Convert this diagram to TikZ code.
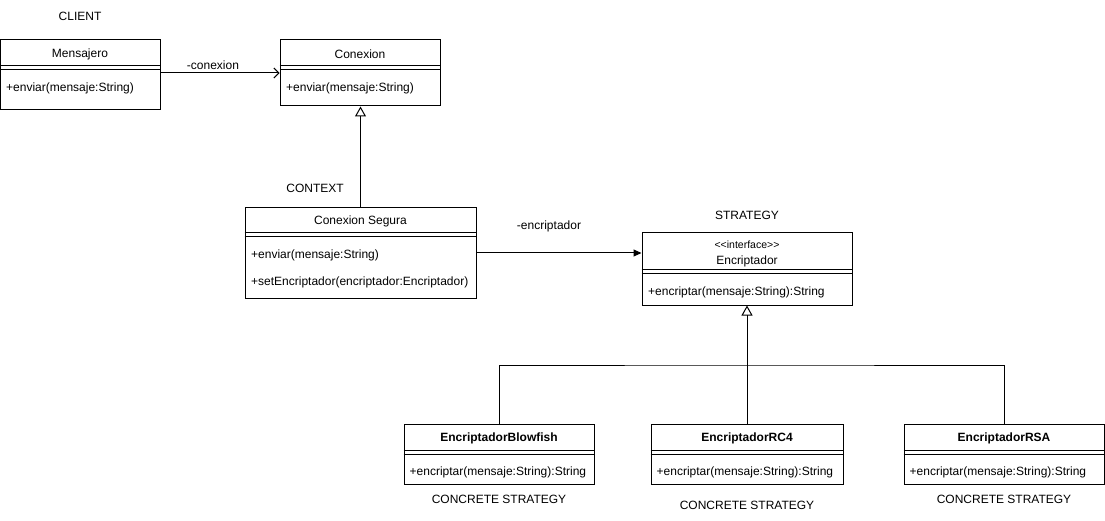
\documentclass[tikz,border=0pt]{standalone}
\usepackage{fontspec}
\setmainfont{Liberation Sans}
\usetikzlibrary{arrows.meta,fit}

\tikzset{
  cls/.style={draw, inner sep=0pt, line width=1pt},
  txt/.style={inner sep=0pt, font=\fontsize{12}{14}\selectfont},
  mth/.style={txt, anchor=west},
  inherit/.style={-{Triangle[open,length=10pt,width=11pt]}, line width=1pt},
  assoc/.style={-{Straight Barb[length=5pt,width=10pt]}, line width=1pt},
  navig/.style={-{Triangle[length=8pt,width=7pt]}, line width=1pt},
}

% class box: name, two corners, top of the double line
\newcommand{\umlbox}[4]{%
  \node[cls, fit={#2 #3}] (#1) {};
  \draw[line width=1pt] (#1.west |- 0,#4) -- (#1.east |- 0,#4);
  \draw[line width=1pt] (#1.west |- 0,#4+4) -- (#1.east |- 0,#4+4);
}

\begin{document}
\begin{tikzpicture}[x=1pt,y=-1pt]
\useasboundingbox (0,0) rectangle (1105,521);
%%%% classes
\umlbox{mens}{(0,40)}{(160,110)}{66}
\umlbox{conx}{(280,40)}{(440,106)}{66}
\umlbox{seg}{(245,208)}{(476,298)}{233}
\umlbox{enc}{(642,233)}{(852,305)}{270}
\umlbox{blow}{(404,424)}{(594,484)}{450}
\umlbox{rc4}{(651,424)}{(843,484)}{450}
\umlbox{rsa}{(904,424)}{(1104,484)}{450}
%%%% texts
\node[txt] (mens-t) at (80,54) {Mensajero};
\node[mth] (mens-m) at (6,88) {+enviar(mensaje:String)};
\node[txt] (conx-t) at (360,54) {Conexion};
\node[mth] (conx-m) at (286,88) {+enviar(mensaje:String)};
\node[txt] (seg-t) at (360.5,221) {Conexion Segura};
\node[mth] (seg-m) at (251,255) {+enviar(mensaje:String)};
\node[mth] (seg-n) at (251,282) {+setEncriptador(encriptador:Encriptador)};
\node[txt, font=\fontsize{10.5}{12}\selectfont] (enc-s) at (747,245) {{<}{<}interface{>}{>}};
\node[txt] (enc-t) at (747,261) {Encriptador};
\node[mth] (enc-m) at (648,292) {+encriptar(mensaje:String):String};
\foreach \n/\t/\y in {blow/Blowfish/499,rc4/RC4/505,rsa/RSA/499} {
  \node[txt] (\n-t) at (\n.north |- 0,438) {\textbf{Encriptador\t}};
  \node[mth] (\n-m) at ([xshift=6pt]\n.west |- 0,472) {+encriptar(mensaje:String):String};
  \node[txt] (\n-r) at (\n.north |- 0,\y) {CONCRETE STRATEGY};
}
\node[txt] (client) at (80,16) {CLIENT};
\node[txt] (context) at (315,188) {CONTEXT};
\node[txt] (strategy) at (747,215) {STRATEGY};
%%%% connectors
\draw[assoc] (mens.east |- conx) -- (conx.west);
\node[txt] (conx-l) at (213,65) {-conexion};
\draw[inherit] (seg.north) -- (seg.north |- conx.south);
\draw[navig] (seg.east) -- (seg.east -| enc.west);
\node[txt] (enc-l) at (549,226) {-encriptador};
\draw[inherit] (rc4.north) -- (rc4.north |- enc.south);
\coordinate (bus) at (rc4.north |- 0,365);
\draw[line width=1pt] (blow.north) |- (bus) -| (rsa.north);
\end{tikzpicture}
\end{document}
